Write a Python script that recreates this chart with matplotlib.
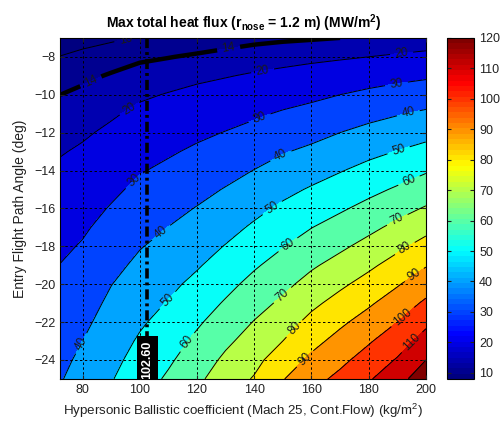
import numpy as np
import matplotlib

matplotlib.use("Agg")
import matplotlib.pyplot as plt
from matplotlib.colors import LinearSegmentedColormap, Normalize
from matplotlib.cm import ScalarMappable

plt.rcParams["font.family"] = ["Liberation Sans", "DejaVu Sans"]
plt.rcParams["mathtext.fontset"] = "custom"
plt.rcParams["mathtext.rm"] = "Liberation Sans"
plt.rcParams["mathtext.bf"] = "Liberation Sans:bold"
plt.rcParams["mathtext.it"] = "Liberation Sans:italic"

# ballistic coefficient (kg/m2) and entry angle (deg) of the grid
beta = [72.3, 80, 90, 100, 110, 120, 130, 140, 150, 160, 170, 180, 190, 200]
gamma = [-7, -8, -9, -10, -11, -12, -13, -14, -15, -16, -17, -18, -19, -20,
         -21, -22, -23, -24, -25]

# max heat flux (MW/m2), one column per beta, top (-7 deg) to bottom (-25 deg)
heat_flux_cols = [
    [8.2, 10.1, 12.1, 14.0, 15.8, 17.7, 19.5, 21.3, 23.1, 24.9, 26.6, 28.4, 30.2, 31.7, 33.2, 34.8, 36.3, 37.8, 39.4],
    [8.7, 10.9, 13.0, 15.0, 17.0, 19.0, 21.0, 22.9, 24.9, 26.9, 28.8, 30.7, 32.6, 34.4, 36.3, 38.1, 40.0, 41.9, 43.7],
    [9.4, 11.9, 14.4, 16.7, 19.1, 21.4, 23.7, 26.0, 28.3, 30.6, 32.9, 35.2, 37.5, 39.8, 41.7, 43.6, 45.6, 47.5, 49.4],
    [10.25, 13.1, 16.0, 18.95, 21.6, 24.2, 26.8, 29.4, 31.9, 34.4, 37.0, 39.5, 41.9, 44.2, 46.5, 48.8, 51.1, 53.3, 55.5],
    [10.4, 13.8, 17.2, 20.4, 23.3, 26.1, 29.0, 31.8, 34.6, 37.4, 40.1, 42.7, 45.3, 47.9, 50.5, 53.2, 55.9, 58.6, 61.4],
    [10.7, 14.7, 18.5, 21.9, 25.1, 28.3, 31.4, 34.4, 37.4, 40.4, 43.3, 46.2, 49.1, 52.3, 55.5, 58.7, 61.9, 65.0, 67.9],
    [11.6, 15.7, 19.6, 23.2, 26.8, 30.3, 33.7, 37.1, 40.5, 43.8, 47.0, 50.4, 53.9, 57.4, 60.9, 64.5, 68.2, 71.8, 75.4],
    [12.5, 16.7, 20.8, 24.8, 28.7, 32.6, 36.4, 40.2, 43.9, 47.6, 51.3, 55.1, 58.9, 62.7, 66.5, 70.4, 73.9, 77.5, 80.7],
    [13.1, 17.5, 21.9, 26.4, 30.9, 35.1, 39.4, 43.5, 47.6, 51.6, 55.6, 59.6, 63.6, 67.6, 71.7, 75.8, 80.0, 84.8, 89.5],
    [13.5, 18.3, 23.2, 28.1, 32.7, 37.3, 41.8, 46.4, 50.9, 55.3, 59.8, 64.2, 68.7, 73.3, 77.9, 82.6, 87.2, 91.9, 96.7],
    [14.0, 19.1, 24.5, 30.0, 35.0, 40.0, 44.8, 49.5, 54.2, 58.8, 63.6, 68.3, 73.3, 78.3, 83.3, 88.3, 93.0, 97.7, 102.4],
    [14.5, 20.0, 26.1, 31.9, 37.3, 42.6, 47.7, 52.7, 57.6, 62.6, 67.7, 72.9, 78.2, 83.4, 88.7, 93.8, 99.0, 104.0, 109.0],
    [15.0, 21.0, 27.5, 33.6, 39.4, 44.9, 50.3, 55.7, 61.1, 66.7, 72.3, 78.0, 83.6, 89.2, 94.6, 100.0, 105.4, 110.8, 116.2],
    [15.5, 22.1, 28.7, 35.2, 41.4, 47.1, 53.0, 59.1, 64.9, 70.8, 77.2, 83.3, 89.4, 95.5, 101.6, 107.8, 113.9, 120.0, 126.0],
]

levels = [10, 14, 20, 30, 40, 50, 60, 70, 80, 90, 100, 110, 120]
thin_levels = [10, 20, 30, 40, 50, 60, 70, 80, 90, 100, 110, 120]
highlight_level = [14]
beta_design = 102.6
cbar_ticks = [10, 20, 30, 40, 50, 60, 70, 80, 90, 100, 110, 120]
xticks = [80, 100, 120, 140, 160, 180, 200]
yticks = [-8, -10, -12, -14, -16, -18, -20, -22, -24]

# where the inline labels sit (beta, gamma)
label_spots = [(95.5, -7.35), (96.7, -10.8), (143, -8.8), (191.5, -7.8),
               (98.5, -14.6), (141.7, -11.15), (189.7, -9.4),
               (79.2, -23.1), (107.3, -17.25), (149.4, -13.25), (194, -11.06),
               (109.4, -20.8), (146.4, -16.0), (190.6, -13.0),
               (116, -23.0), (151.7, -17.9), (194, -14.5),
               (150, -20.6), (190, -16.6), (154, -22.34), (192.6, -18.1),
               (157.5, -23.9), (196.1, -19.54), (191.4, -21.64), (195, -23.04)]
label_spots_14 = [(82.6, -9.2), (131.2, -7.7)]

# MATLAB style jet
jet_ml = LinearSegmentedColormap.from_list(
    "jet_ml",
    [(0, (0, 0, 0.5)), (1 / 8, (0, 0, 1)), (3 / 8, (0, 1, 1)),
     (5 / 8, (1, 1, 0)), (7 / 8, (1, 0, 0)), (1, (0.5, 0, 0))],
    N=64,
)
norm = Normalize(vmin=8, vmax=120)

Z = np.array(heat_flux_cols).T
B, G = np.meshgrid(beta, gamma)

fill_levels = [Z.min() - 1] + levels + [Z.max() + 1]
fill_colors = [jet_ml(norm(v)) for v in [Z.min()] + levels]

fig = plt.figure(figsize=(5.04, 4.21), dpi=100)
ax = fig.add_axes([0.120, 0.100, 0.725, 0.810])
cax = fig.add_axes([0.887, 0.100, 0.054, 0.810])

ax.contourf(B, G, Z, levels=fill_levels, colors=fill_colors)
cs = ax.contour(B, G, Z, levels=thin_levels, colors="k", linewidths=0.7)
cs14 = ax.contour(B, G, Z, levels=highlight_level, colors="k", linewidths=3.2)
ax.clabel(cs, fmt="%g", fontsize=8.5, colors="#1a1a1a", inline=True, manual=label_spots)
ax.clabel(cs14, fmt="%g", fontsize=8.5, colors="#1a1a1a", inline=True, manual=label_spots_14)

ax.plot([beta_design, beta_design], [-7, -22.8], color="k", linewidth=2.6,
        linestyle=(0, (2.8, 1.1, 0.8, 1.1)), zorder=5)
ax.text(beta_design, -24.0, f"{beta_design:.2f}", rotation=90, ha="center", va="center",
        color="white", fontsize=9, fontweight="bold", zorder=6, clip_on=True,
        bbox=dict(boxstyle="square,pad=0.35", facecolor="black", edgecolor="none"))

ax.set_xlim(72.3, 200)
ax.set_ylim(-25, -7)
ax.set_xticks(xticks)
ax.set_yticks(yticks)
ax.set_axisbelow(False)
ax.grid(True, color="k", linestyle=(0, (2.5, 2.5)), linewidth=0.7)
ax.tick_params(direction="in", length=3, labelsize=9, colors="#222222", top=True, right=True)
for s in ax.spines.values():
    s.set_linewidth(0.8)

ax.set_title(r"Max total heat flux (r$_{\mathbf{nose}}$ = 1.2 m) (MW/m$^{\mathbf{2}}$)",
             fontsize=10, fontweight="bold", pad=7)
ax.set_xlabel(r"Hypersonic Ballistic coefficient (Mach 25, Cont.Flow) (kg/m$^{2}$)",
              fontsize=9.6, color="#222222", labelpad=4)
ax.set_ylabel("Entry Flight Path Angle (deg)", fontsize=10, color="#222222", labelpad=5)

sm = ScalarMappable(norm=norm, cmap=jet_ml)
cb = fig.colorbar(sm, cax=cax, ticks=cbar_ticks)
cb.outline.set_linewidth(0.8)
cax.tick_params(direction="in", length=3, labelsize=9, colors="#222222", left=True, right=True)

fig.savefig("out.png", dpi=100)
